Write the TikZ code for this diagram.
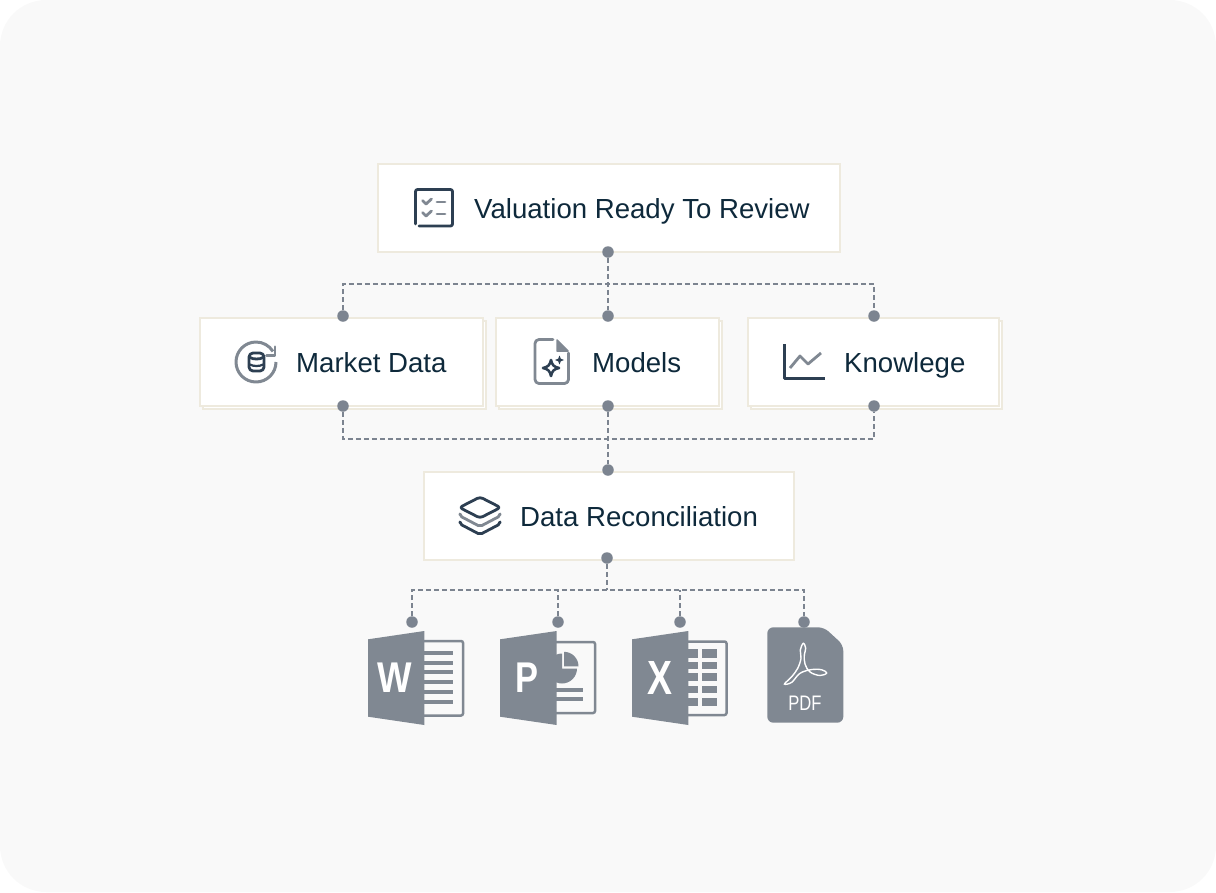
\documentclass[tikz,border=0pt]{standalone}
\usepackage{fontspec}
\setmainfont{Liberation Sans}
\usepackage{tikz}
\usetikzlibrary{calc, positioning}

\definecolor{pagegrey}{HTML}{F9F9F9}
\definecolor{boxline}{HTML}{EEEADE}
\definecolor{linkgrey}{HTML}{7C8490}
\definecolor{icondark}{HTML}{2D3F52}
\definecolor{icongrey}{HTML}{808892}
\definecolor{textdark}{HTML}{0E293B}

\tikzset{
  boxnode/.style={draw=boxline,line width=2pt,fill=white,minimum height=88pt,inner sep=0pt},
  labelnode/.style={anchor=base west,text=textdark,font=\fontsize{27.6}{28}\selectfont,inner sep=0pt},
  dotnode/.style={circle,fill=linkgrey,minimum size=11.5pt,inner sep=0pt},
  linkline/.style={draw=linkgrey,line width=1.8pt,dash pattern=on 5pt off 3pt},
  darkline/.style={draw=icondark,line width=2.8pt,line cap=round,line join=round},
  greyline/.style={draw=icongrey,line width=2.8pt,line cap=round,line join=round},
  foldshape/.style={fill=icongrey},
  pageline/.style={draw=icongrey,line width=2.5pt,rounded corners=2pt},
  letternode/.style={text=white,font=\bfseries\fontsize{43}{43}\selectfont,inner sep=0pt}
}

\begin{document}
\begin{tikzpicture}[x=1pt,y=-1pt]
\useasboundingbox (0,0) rectangle (1216,892);
\fill[pagegrey,rounded corners=46pt] (0,0) rectangle (1216,892);

%boxes
\node[boxnode,minimum width=462pt] (review) at (609,208) {};
\node[boxnode,minimum width=283pt] (marketback) at (344,364.5) {};
\node[boxnode,minimum width=283pt] (market) at (341.5,362) {};
\node[boxnode,minimum width=223pt] (modelsback) at (610,364.5) {};
\node[boxnode,minimum width=223pt] (models) at (607.5,362) {};
\node[boxnode,minimum width=251pt] (knowlegeback) at (876,364.5) {};
\node[boxnode,minimum width=251pt] (knowlege) at (873.5,362) {};
\node[boxnode,minimum width=370pt] (recon) at (609,516) {};

%labels
\node[labelnode] (reviewtext) at (474,218) {Valuation Ready To Review};
\node[labelnode] (markettext) at (296,372) {Market Data};
\node[labelnode] (modelstext) at (592,372) {Models};
\node[labelnode] (knowlegetext) at (844,372) {Knowlege};
\node[labelnode] (recontext) at (520,526) {Data Reconciliation};

%dots
\node[dotnode] (reviewdot) at (608,252) {};
\node[dotnode] (marketin) at (343,316) {};
\node[dotnode] (modelsin) at (608,316) {};
\node[dotnode] (knowlegein) at (874,316) {};
\node[dotnode] (marketout) at (343,406) {};
\node[dotnode] (modelsout) at (608,406) {};
\node[dotnode] (knowlegeout) at (874,406) {};
\node[dotnode] (reconin) at (608,470) {};
\node[dotnode] (reconout) at (607,558) {};
\node[dotnode] (worddot) at (412,622) {};
\node[dotnode] (pptdot) at (558,622) {};
\node[dotnode] (exceldot) at (680,622) {};
\node[dotnode] (pdfdot) at (804,622) {};

%links
\coordinate (topbus) at (608,284);
\coordinate (midbus) at (608,439);
\coordinate (lowbus) at (607,590);
\draw[linkline] (reviewdot) -- (modelsin);
\draw[linkline] (marketin) |- (topbus) -| (knowlegein);
\draw[linkline] (modelsout) -- (reconin);
\draw[linkline] (marketout) |- (midbus) -| (knowlegeout);
\draw[linkline] (reconout) -- (lowbus);
\draw[linkline] (worddot) |- (lowbus) -| (pdfdot);
\draw[linkline] (pptdot) -- (pptdot |- lowbus);
\draw[linkline] (exceldot) -- (exceldot |- lowbus);

%checklist icon
\draw[darkline,rounded corners=2pt] (415.5,224) -- (415.5,189.5) -- (452.5,189.5) -- (452.5,226) -- (419,226);
\draw[greyline] (422.5,200.5) -- (426,204) -- (431.5,199);
\draw[greyline] (422.5,212.5) -- (426,216) -- (431.5,211);
\draw[greyline] (437,202) -- (445,202);
\draw[greyline] (437,214) -- (445,214);

%market icon
\draw[greyline,line width=3pt,line cap=butt] (276,362) arc[start angle=0,end angle=328,radius=20];
\draw[greyline,line width=2.6pt] (266.5,355.5) -- (275,355.5) -- (275,346.7);
\draw[darkline,rounded corners=4pt] (249,353) rectangle (264,371);
\draw[darkline] (250,357.5) .. controls (253,359.5) and (260,359.5) .. (263,357.5);
\draw[darkline,line width=2.2pt] (250,364.5) .. controls (253,366.5) and (260,366.5) .. (263,364.5);

%models icon
\draw[greyline,rounded corners=4pt] (553,339.5) -- (535,339.5) -- (535,383.5) -- (568.5,383.5) -- (568.5,353);
\draw[greyline,fill=icongrey,line width=1.5pt] (557,340) -- (568,351) -- (557,351) -- cycle;
\draw[darkline,fill=white,line width=2.6pt] (551,360) .. controls (552,365) and (554,367) .. (559,368) .. controls (554,369) and (552,371) .. (551,376) .. controls (550,371) and (548,369) .. (543,368) .. controls (548,367) and (550,365) .. (551,360) -- cycle;
\fill[icondark] (559.5,355.5) .. controls (560,358.5) and (561,359.5) .. (564,360) .. controls (561,360.5) and (560,361.5) .. (559.5,364.5) .. controls (559,361.5) and (558,360.5) .. (555,360) .. controls (558,359.5) and (559,358.5) .. (559.5,355.5) -- cycle;

%knowlege icon
\draw[darkline,line cap=butt,line width=3pt] (784,344) -- (784,378) -- (825,378);
\draw[greyline,line cap=butt] (790,368) -- (800,356) -- (808,364) -- (821,353);

%layers icon
\draw[darkline,rounded corners=3pt] (480,497) -- (500.5,507.5) -- (480,518) -- (459.5,507.5) -- cycle;
\draw[greyline,rounded corners=2pt] (460,515) -- (460,516) -- (480,526.5) -- (500,516) -- (500,515);
\draw[darkline,rounded corners=2pt] (460,523) -- (460,524) -- (480,534.5) -- (500,524) -- (500,523);

%word icon
\fill[foldshape] (368,639.3) -- (424.3,631) -- (424.3,725) -- (368,716.7) -- cycle;
\draw[pageline] (424,641) -- (463,641) -- (463,715.5) -- (424,715.5);
\foreach \y in {652.7,662.7,672.3,682,692,701.7}
  \fill[icongrey] (424,\y-2) rectangle (453,\y+2);
\node[letternode] (wordletter) at (394.3,677.7) {\scalebox{0.85}[1]{W}};

%powerpoint icon
\fill[foldshape] (500,639.3) -- (556.7,631) -- (556.7,725) -- (500,716.7) -- cycle;
\draw[pageline] (556,642) -- (595,642) -- (595,713) -- (556,713);
\fill[icongrey] (562,668.5) -- (562,653.5) arc[start angle=270,end angle=90,radius=15] -- (562,683.5) arc[start angle=90,end angle=0,radius=15] -- cycle;
\fill[icongrey] (564,666.3) -- (564,651.8) arc[start angle=270,end angle=360,radius=14.5] -- cycle;
\fill[icongrey] (556,688) rectangle (582.7,692);
\fill[icongrey] (556,697.3) rectangle (582.7,701.3);
\node[letternode] (pptletter) at (527,678) {\scalebox{0.8}[1]{P}};

%excel icon
\fill[foldshape] (632,639.3) -- (688.3,631) -- (688.3,725) -- (632,716.7) -- cycle;
\draw[pageline] (688,641.5) -- (726.5,641.5) -- (726.5,715) -- (688,715);
\foreach \ya/\yb in {649.3/657.7,661.7/669.3,673.3/681,686/693.3,698/706}{
  \fill[icongrey] (688,\ya) rectangle (697.7,\yb);
  \fill[icongrey] (702.3,\ya) rectangle (717.3,\yb);
}
\node[letternode,font=\bfseries\fontsize{48}{48}\selectfont] (excelletter) at (659.5,678) {\scalebox{0.78}[1]{X}};

%pdf icon
\fill[icongrey,rounded corners=6pt] (767.3,627.3) -- (824,627.3) -- (843.3,645) -- (843.3,722.7) -- (767.3,722.7) -- cycle;
\draw[white,line width=1.4pt] plot[smooth cycle,tension=0.6] coordinates {(803.3,643.3) (800.3,650) (801,658.3) (797.7,668.3) (791.7,676.7) (784.5,684) (791.7,682.3) (800,673.3) (811.7,669.5) (821.7,669.8) (826.7,673) (820,675.5) (810,672) (805,664) (804.3,655) (805.7,648.3)};
\node[text=white,inner sep=0pt,font=\fontsize{21}{21}\selectfont] (pdftext) at (805,703.5) {\scalebox{0.79}[1]{PDF}};
\end{tikzpicture}
\end{document}
